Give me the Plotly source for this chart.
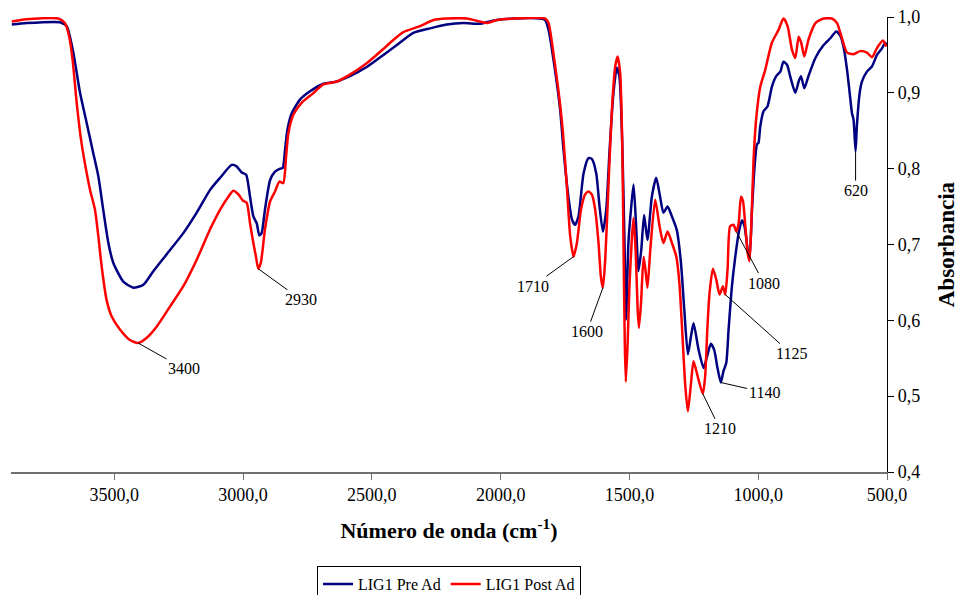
import plotly.graph_objects as go

# ---- data (wavenumber cm-1, absorbance) ----
pre_wn = [3898, 3840, 3711, 3685, 3659, 3633, 3607, 3582, 3562, 3543, 3523, 3504, 3465, 3426, 3387, 3348,
          3297, 3232, 3180, 3128, 3089, 3044, 3025, 3005, 2988, 2973, 2960, 2947, 2937, 2928, 2915, 2895,
          2876, 2856, 2846, 2837, 2828, 2811, 2779, 2740, 2688, 2636, 2585, 2520, 2455, 2403, 2339, 2274,
          2209, 2144, 2080, 2054, 2015, 1950, 1847, 1827, 1814, 1795, 1769, 1756, 1737, 1723, 1711, 1698,
          1678, 1659, 1646, 1629, 1616, 1603, 1590, 1577, 1562, 1549, 1539, 1528, 1519, 1513, 1504, 1494,
          1484, 1474, 1465, 1454, 1443, 1430, 1413, 1396, 1381, 1368, 1352, 1335, 1316, 1300, 1287, 1273,
          1261, 1251, 1232, 1212, 1199, 1184, 1171, 1158, 1145, 1135, 1124, 1115, 1102, 1089, 1076, 1063,
          1053, 1041, 1034, 1024, 1015, 1005, 999, 992, 979, 964, 947, 930, 914, 902, 888, 876, 856, 843,
          834, 821, 805, 778, 746, 720, 697, 681, 669, 655, 645, 636, 630, 622, 617, 606, 597, 578, 558,
          539, 519, 507, 500]
pre_abs = [.990, .992, .993, .988, .953, .900, .860, .821, .790, .746, .702, .676, .651, .643, .647, .665,
           .687, .715, .742, .772, .788, .805, .803, .795, .792, .763, .737, .728, .712, .715, .746, .785,
           .796, .800, .801, .825, .851, .873, .891, .902, .912, .915, .922, .934, .950, .963, .979, .985,
           .990, .992, .991, .993, .996, .998, .998, .996, .983, .944, .878, .825, .763, .733, .726, .737,
           .794, .814, .813, .794, .750, .717, .746, .825, .900, .933, .922, .834, .702, .601, .702, .746,
           .779, .724, .665, .693, .739, .706, .763, .788, .763, .742, .750, .737, .719, .676, .614, .555,
           .579, .596, .562, .537, .552, .569, .561, .537, .518, .533, .544, .588, .645, .684, .715, .732,
           .724, .693, .680, .746, .799, .832, .834, .856, .876, .882, .908, .922, .928, .941, .937, .922, .900, .915,
           .922, .906, .922, .946, .963, .972, .981, .975, .961, .930, .900, .873, .865, .823, .856, .900, .915, .928, .935,
           .950, .959, .966, .962]

post_wn = [3898, 3842, 3717, 3692, 3675, 3662, 3646, 3631, 3614, 3594, 3575, 3562, 3549, 3530, 3510, 3478,
           3439, 3407, 3374, 3335, 3284, 3232, 3180, 3128, 3089, 3057, 3038, 3018, 3001, 2986, 2973, 2960,
           2950, 2941, 2931, 2915, 2895, 2876, 2859, 2844, 2833, 2824, 2805, 2772, 2733, 2688, 2636, 2585,
           2520, 2455, 2429, 2378, 2313, 2261, 2209, 2131, 2080, 2054, 2015, 1950, 1827, 1814, 1797, 1776,
           1759, 1743, 1730, 1717, 1704, 1688, 1672, 1659, 1646, 1633, 1620, 1611, 1603, 1594, 1581, 1568,
           1555, 1546, 1536, 1528, 1523, 1518, 1514, 1507, 1500, 1490, 1484, 1476, 1468, 1463, 1455, 1445,
           1438, 1430, 1419, 1400, 1383, 1368, 1352, 1335, 1318, 1306, 1296, 1283, 1273, 1261, 1251, 1232,
           1215, 1206, 1197, 1189, 1176, 1163, 1150, 1137, 1128, 1119, 1109, 1096, 1085, 1076, 1067, 1059,
           1050, 1041, 1034, 1027, 1018, 1008, 992, 973, 947, 921, 902, 886, 869, 856, 843, 833, 821, 805,
           778, 746, 714, 694, 675, 655, 630, 604, 578, 558, 539, 516, 503]
post_abs = [.994, .997, .998, .992, .974, .944, .887, .843, .807, .772, .746, .711, .671, .627, .605, .588,
            .574, .570, .577, .592, .618, .645, .680, .720, .746, .763, .771, .766, .758, .755, .728, .702,
            .684, .668, .676, .720, .757, .770, .783, .781, .816, .847, .871, .887, .898, .911, .915, .924,
            .939, .958, .966, .980, .988, .996, .998, .998, .994, .992, .996, .998, .998, .992, .957, .904,
            .851, .777, .711, .684, .702, .746, .766, .770, .766, .746, .702, .658, .643, .680, .781, .878,
            .935, .948, .926, .834, .702, .570, .519, .570, .645, .711, .735, .693, .614, .590, .623, .684,
            .667, .643, .693, .759, .724, .702, .717, .702, .684, .649, .592, .513, .480, .517, .546, .522,
            .503, .526, .592, .636, .668, .654, .634, .645, .634, .667, .724, .726, .717, .728, .763, .757,
            .724, .689, .678, .724, .812, .865, .908, .930, .966, .983, .998, .988, .957, .946, .974, .966, .948, .970,
            .992, .998, .998, .992, .972, .953, .951, .955, .953, .947, .959, .969, .961]

series_names = ["LIG1 Pre Ad", "LIG1 Post Ad"]
series_colors = ["#000080", "#FF0000"]

# annotated peaks: label, wavenumber, absorbance, label position (wavenumber, absorbance)
peak_labels = ["3400", "2930", "1710", "1600", "1210", "1140", "1125", "1080", "620"]
peak_wn = [3407, 2941, 1717, 1603, 1215, 1145, 1128, 1085, 622]
peak_abs = [0.570, 0.668, 0.684, 0.643, 0.503, 0.518, 0.634, 0.717, 0.823]
label_wn = [3229, 2774, 1876, 1665, 1149, 977, 872, 978, 622]
label_abs = [0.536, 0.627, 0.645, 0.585, 0.457, 0.505, 0.556, 0.649, 0.771]

x_ticks = [3500, 3000, 2500, 2000, 1500, 1000, 500]
y_ticks = [0.4, 0.5, 0.6, 0.7, 0.8, 0.9, 1.0]

FONT = "Liberation Serif"

fig = go.Figure()
for name, wn, ab, col in zip(series_names, [pre_wn, post_wn], [pre_abs, post_abs], series_colors):
    fig.add_trace(go.Scatter(x=wn, y=ab, mode="lines", name=name,
                             line=dict(color=col, width=2.5, shape="spline", smoothing=0.6)))

for lab, x, y, lx, ly in zip(peak_labels, peak_wn, peak_abs, label_wn, label_abs):
    fig.add_annotation(x=x, y=y, xref="x", yref="y", text=lab, showarrow=True, arrowhead=0,
                       arrowwidth=1, arrowcolor="black", axref="x", ayref="y",
                       ax=lx, ay=ly, standoff=0, startstandoff=0,
                       font=dict(family=FONT, size=16, color="black"))

fig.update_layout(
    width=959, height=595,
    margin=dict(l=11, r=72, t=17, b=123, autoexpand=False),
    paper_bgcolor="white", plot_bgcolor="white",
    separators=", ",
    font=dict(family=FONT, size=18, color="black"),
    showlegend=True,
    legend=dict(orientation="h", x=0.5, xanchor="center", y=-0.207, yanchor="top",
                bordercolor="black", borderwidth=1, font=dict(family=FONT, size=16),
                itemwidth=30, tracegroupgap=0),
    xaxis=dict(range=[3901, 500], tickvals=x_ticks, tickformat=".1f",
               showgrid=False, zeroline=False, showline=True, linecolor="#707070", linewidth=1.5,
               ticks="outside", ticklen=6, tickcolor="#707070", tickfont=dict(size=18),
               title=dict(text="<b>Número de onda (cm<sup>-1</sup>)</b>", font=dict(size=22), standoff=18)),
    yaxis=dict(range=[0.4, 1.0], side="right", tickvals=y_ticks, tickformat=".1f",
               showgrid=False, zeroline=False, showline=True, linecolor="black", linewidth=1.2,
               ticks="outside", ticklen=6, tickcolor="black", tickfont=dict(size=18),
               title=dict(text="<b>Absorbancia</b>", font=dict(size=23), standoff=18)),
)

fig.write_html("out.html")
